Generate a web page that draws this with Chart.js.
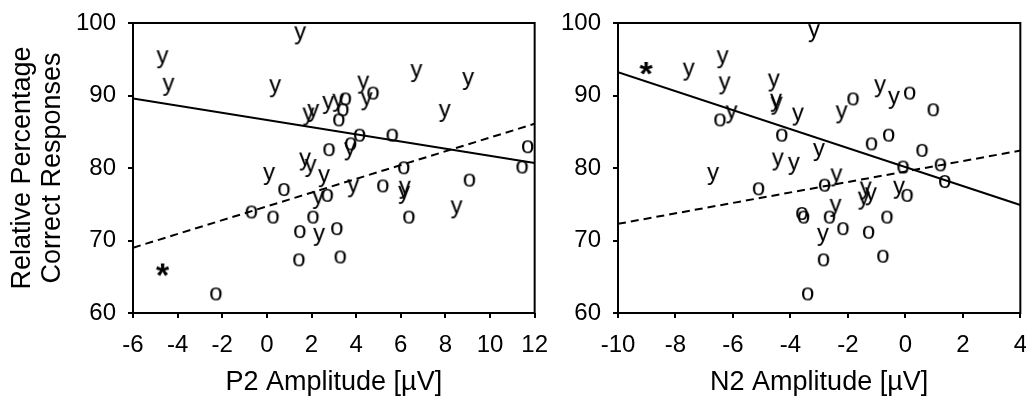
<!DOCTYPE html>
<html>
<head>
    <title>P2 / N2 Amplitude vs Correct Responses</title>
    <style>
        html, body { margin: 0; padding: 0; background: #fff; overflow: hidden; width: 1026px; height: 396px; }
        .panel { position: absolute; top: 0; height: 396px; }
        #p2 { left: 0; width: 561px; }
        #n2 { left: 560px; width: 480px; }
    </style>
</head>
<body>
    <div class="panel" id="p2"><canvas id="p2Chart" width="561" height="396"></canvas></div>
    <div class="panel" id="n2"><canvas id="n2Chart" width="480" height="396"></canvas></div>

    <script src="https://cdn.jsdelivr.net/npm/chart.js"></script>
    <script>
        // P2 panel: "y" and "o" groups (amplitude µV, relative % correct)
        const p2YesAmp = [1.49, 0.37, 6.7, 4.32, 4.47, 2.75, 3.2, 1.86, 2.08, 3.72, 1.71, 1.96, 0.1, 2.56, 2.3, 3.87, 6.18, 6.15, 2.34, -4.68, -4.41, 9.02, 7.97, 8.5];
        const p2YesPct = [98.3, 91.0, 93.1, 91.5, 89.2, 88.7, 89.0, 87.1, 87.6, 82.3, 80.9, 80.0, 78.9, 78.6, 75.6, 77.2, 77.0, 76.3, 70.5, 95.0, 91.2, 92.0, 87.6, 74.3];
        const p2NoAmp = [4.77, 3.53, 3.42, 3.24, 4.17, 5.63, 3.77, 2.8, 0.78, 2.72, 5.21, 6.15, 6.38, 0.29, 2.08, 1.49, 3.15, 1.45, 3.3, -0.68, -2.27, 11.7, 11.45, 9.09];
        const p2NoPct = [90.4, 89.6, 88.1, 86.7, 84.6, 84.6, 83.4, 82.6, 77.1, 76.3, 77.6, 80.1, 73.3, 73.3, 73.3, 71.3, 71.7, 67.4, 67.8, 74.0, 62.7, 83.0, 80.2, 78.4];

        // N2 panel
        const n2YesAmp = [-7.54, -6.36, -6.29, -6.05, -6.69, -3.18, -4.58, -4.5, -4.48, -3.74, -3.01, -4.44, -3.88, -2.22, -0.88, -0.4, -2.4, -1.38, -1.2, -1.45, -0.22, -2.43, -2.87];
        const n2YesPct = [93.3, 95.0, 91.4, 87.4, 78.9, 98.6, 91.8, 89.0, 88.6, 87.1, 82.2, 80.9, 80.3, 87.4, 91.0, 89.4, 78.7, 76.9, 76.1, 75.5, 77.0, 74.5, 70.5];
        const n2NoAmp = [-6.44, -5.1, -4.29, -1.81, -1.17, -0.57, 0.16, 0.98, 0.59, -0.07, 1.23, 1.38, -2.8, -3.59, -3.53, -2.63, -2.16, -1.27, -0.77, -2.84, -3.39, -0.63, 0.07];
        const n2NoPct = [86.7, 77.2, 84.6, 89.6, 83.4, 84.6, 90.4, 88.1, 82.5, 80.2, 80.5, 78.2, 77.7, 73.8, 73.3, 73.3, 71.7, 71.2, 67.9, 67.4, 62.7, 73.3, 76.3];

        // regression lines (endpoints at axis limits)
        const p2LineX = [-6, 12];
        const p2SolidY = [89.6, 80.7];
        const p2DashY = [69.0, 86.1];
        const n2LineX = [-10, 4];
        const n2SolidY = [93.2, 74.9];
        const n2DashY = [72.3, 82.4];

        // significance marks
        const p2Star = [-4.66, 66.0];
        const n2Star = [-9.01, 93.8];

        const FONT = '"Liberation Sans", Arial, sans-serif';

        // text glyph used as point marker, centred on its ink box
        function glyph(ch, size, weight) {
            const c = document.createElement('canvas');
            let g = c.getContext('2d');
            const f = weight + ' ' + size + 'px ' + FONT;
            g.font = f;
            const m = g.measureText(ch);
            const gw = m.actualBoundingBoxLeft + m.actualBoundingBoxRight;
            const gh = m.actualBoundingBoxAscent + m.actualBoundingBoxDescent;
            let w = Math.ceil(gw) + 4, h = Math.ceil(gh) + 4;
            c.width = w + (w % 2);
            c.height = h + (h % 2);
            g = c.getContext('2d');
            g.font = f;
            g.fillStyle = '#000';
            g.fillText(ch, (c.width - gw) / 2 + m.actualBoundingBoxLeft, (c.height - gh) / 2 + m.actualBoundingBoxAscent);
            return c;
        }

        const yMark = glyph('y', 24, 'normal');
        const oMark = glyph('o', 24, 'normal');
        const starMark = glyph('*', 34, 'bold');

        const pts = (xs, ys) => xs.map((x, i) => ({ x: x, y: ys[i] }));

        const frame = {
            id: 'frame',
            afterDraw(chart) {
                const a = chart.chartArea, ctx = chart.ctx;
                ctx.save();
                ctx.strokeStyle = '#000';
                ctx.lineWidth = 2;
                ctx.strokeRect(a.left, a.top, a.right - a.left, a.bottom - a.top);
                ctx.restore();
            }
        };

        function makeChart(id, cfg) {
            const datasets = [
                { data: pts(cfg.lineX, cfg.solidY), showLine: true, borderColor: '#000', borderWidth: 2, pointRadius: 0 },
                { data: pts(cfg.lineX, cfg.dashY), showLine: true, borderColor: '#000', borderWidth: 2, borderDash: [8, 5], pointRadius: 0 },
                { data: pts(cfg.yesAmp, cfg.yesPct), pointStyle: yMark, pointRadius: 5 },
                { data: pts(cfg.noAmp, cfg.noPct), pointStyle: oMark, pointRadius: 5 },
                { data: [{ x: cfg.star[0], y: cfg.star[1] }], pointStyle: starMark, pointRadius: 5 }
            ];
            return new Chart(document.getElementById(id), {
                type: 'scatter',
                data: { datasets: datasets },
                options: {
                    responsive: false,
                    animation: false,
                    events: [],
                    layout: { padding: { left: 0, right: 0, top: 23, bottom: 0 } },
                    plugins: { legend: { display: false }, tooltip: { enabled: false } },
                    scales: {
                        x: {
                            min: cfg.xMin, max: cfg.xMax,
                            ticks: { stepSize: 2, color: '#000', padding: 13, font: { family: FONT, size: 24 } },
                            grid: { drawOnChartArea: false, color: '#000', lineWidth: 2, tickLength: 5 },
                            border: { display: false },
                            title: { display: true, text: cfg.xTitle, color: '#000', padding: 0, font: { family: FONT, size: 27, lineHeight: 1 } },
                            afterFit: s => { s.height = 83; }
                        },
                        y: {
                            min: 60, max: 100,
                            ticks: { stepSize: 10, color: '#000', padding: 12, font: { family: FONT, size: 24, lineHeight: '20px' } },
                            grid: { drawOnChartArea: false, color: '#000', lineWidth: 2, tickLength: 5 },
                            border: { display: false },
                            title: { display: !!cfg.yTitle, text: cfg.yTitle || '', color: '#000', padding: { top: 8, bottom: 0 }, font: { family: FONT, size: 27, lineHeight: '30px' } },
                            afterFit: s => { s.width = cfg.yWidth; }
                        }
                    }
                },
                plugins: [frame]
            });
        }

        makeChart('p2Chart', {
            lineX: p2LineX, solidY: p2SolidY, dashY: p2DashY,
            yesAmp: p2YesAmp, yesPct: p2YesPct, noAmp: p2NoAmp, noPct: p2NoPct, star: p2Star,
            xMin: -6, xMax: 12, xTitle: 'P2 Amplitude [µV]',
            yTitle: ['Relative Percentage', 'Correct Responses'],
            yWidth: 133
        });

        makeChart('n2Chart', {
            lineX: n2LineX, solidY: n2SolidY, dashY: n2DashY,
            yesAmp: n2YesAmp, yesPct: n2YesPct, noAmp: n2NoAmp, noPct: n2NoPct, star: n2Star,
            xMin: -10, xMax: 4, xTitle: 'N2 Amplitude [µV]',
            yTitle: null,
            yWidth: 58
        });
    </script>
</body>
</html>
